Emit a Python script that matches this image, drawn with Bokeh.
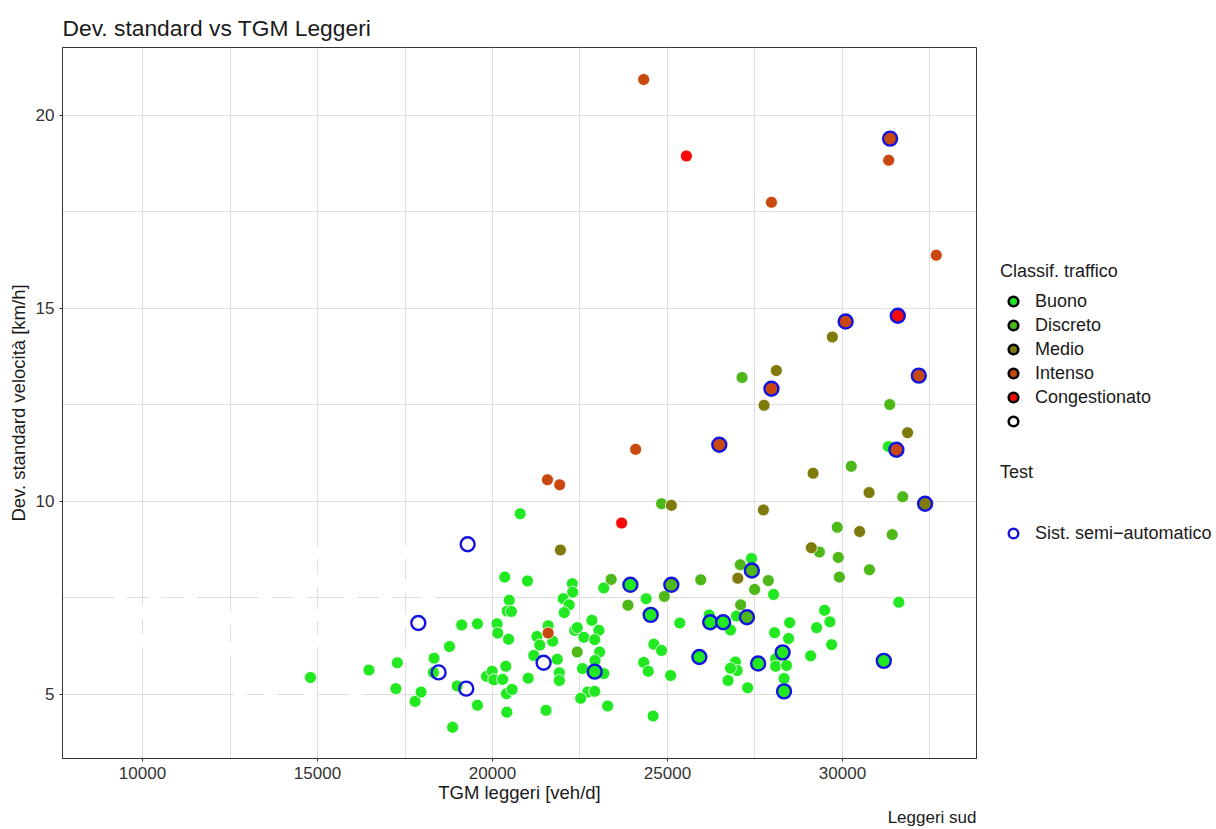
from bokeh.plotting import figure
from bokeh.layouts import row
from bokeh.models import Range1d, FixedTicker, Legend, LegendItem, Title
from bokeh.embed import file_html
from bokeh.resources import INLINE

FONT = "Liberation Sans"

# ---- data (TGM leggeri [veh/d], Dev. standard velocità [km/h]) ----
class_names = ["Buono", "Discreto", "Medio", "Intenso", "Congestionato"]
class_colors = ["#22E822", "#4DB818", "#7E7A0C", "#C8480E", "#F50A0A"]

buono_tgm = [14800, 16470, 17280, 17240, 20350, 21000, 22280, 22290, 22020, 22190,
             22050, 20480, 20420, 20540, 19120, 19570, 20130, 20150, 20460, 21590,
             21270, 21720, 21350, 21180, 21850, 21910, 21910, 21020, 22350, 22420,
             22610, 22840, 23040, 22920, 23060, 22930, 22570, 23180, 22720, 22920,
             22520, 23290, 24590, 21530, 20410, 19570, 18860, 17790, 18330, 18310,
             18990, 17960, 19830, 19990, 20040, 20290, 20380, 20400, 20560, 18770,
             23180, 24390, 25350, 24610, 24830, 24320, 24450, 25090, 20790, 27400,
             28030, 31610, 26970, 26190, 26800, 28490, 28060, 28460, 29490, 29640,
             29260, 29690, 29090, 26940, 26990, 26800, 26730, 27290, 28090, 28090,
             28400, 28330, 31310]
buono_dev = [5.44, 5.63, 5.82, 5.15, 8.04, 7.94, 7.87, 7.65, 7.48, 7.32,
             7.12, 7.44, 7.16, 7.15, 6.80, 6.83, 6.83, 6.59, 6.43, 6.78,
             6.50, 6.38, 6.28, 6.01, 5.91, 5.56, 5.36, 5.42, 6.66, 6.73,
             6.48, 6.92, 6.66, 6.42, 6.10, 5.88, 5.67, 5.54, 5.06, 5.08,
             4.90, 4.70, 4.44, 4.59, 4.54, 4.72, 4.15, 4.82, 5.94, 5.57,
             5.22, 5.06, 5.47, 5.60, 5.38, 5.39, 5.73, 5.02, 5.13, 6.24,
             7.76, 7.48, 6.85, 6.30, 6.14, 5.83, 5.60, 5.49, 9.68, 8.52,
             7.59, 7.39, 7.03, 7.06, 6.67, 6.86, 6.60, 6.45, 7.18, 6.88,
             6.73, 6.29, 6.00, 5.84, 5.62, 5.68, 5.36, 5.17, 5.92, 5.73,
             5.75, 5.41, 11.42]

discreto_tgm = [22420, 23390, 23870, 24910, 29850, 31420, 29340, 29880, 30770, 29910,
                27080, 27880, 27490, 25950, 27090, 30250, 31720, 24830, 27130, 31350]
discreto_dev = [6.10, 7.98, 7.31, 7.54, 9.33, 9.14, 8.69, 8.55, 8.23, 8.04,
                8.36, 7.95, 7.72, 7.97, 7.32, 10.91, 10.12, 9.94, 13.21, 12.51]

medio_tgm = [21940, 30490, 29110, 27010, 27760, 31860, 29160, 30760, 25110, 27740, 29710, 28110]
medio_dev = [8.74, 9.22, 8.80, 8.01, 12.49, 11.78, 10.73, 10.23, 9.90, 9.78, 14.26, 13.39]

intenso_tgm = [24090, 21570, 21920, 24320, 27970, 31320, 32680, 21590]
intenso_dev = [11.35, 10.56, 10.43, 20.93, 17.75, 18.84, 16.38, 6.59]

congest_tgm = [23690, 25540]
congest_dev = [9.44, 18.95]

# points without a traffic class (white)
noclass_tgm = [9370, 10370, 11370, 10000, 10000, 12490, 12490, 12800, 13510, 14510,
               15000, 15000, 15000, 15000, 15940, 16940, 17490, 17490, 17490, 17490,
               13660, 14800, 16090, 18170]
noclass_dev = [7.51, 7.46, 7.51, 7.12, 6.40, 6.97, 6.19, 5.00, 7.51, 7.51,
               8.68, 7.95, 7.05, 6.40, 7.51, 7.51, 8.68, 7.82, 6.92, 6.01,
               5.00, 5.00, 5.00, 7.51]

# Test: Sist. semi-automatico
test_tgm = [27970, 26480, 31540, 31360, 30090, 32180, 31580, 32360, 25110, 27410,
            27270, 23940, 24520, 26220, 26590, 31180, 25910, 27590, 28290, 28330,
            22920, 19290, 17880, 18460, 19250, 21460]
test_dev = [12.92, 11.47, 11.34, 19.40, 14.66, 13.26, 14.81, 9.94, 7.84, 8.21,
            7.00, 7.84, 7.06, 6.87, 6.87, 5.87, 5.97, 5.80, 6.09, 5.08,
            5.59, 8.89, 6.85, 5.57, 5.15, 5.82]
test_class = ["Intenso", "Intenso", "Intenso", "Intenso", "Intenso", "Intenso",
              "Congestionato", "Medio", "Discreto", "Discreto", "Discreto",
              "Buono", "Buono", "Buono", "Buono", "Buono", "Buono", "Buono",
              "Buono", "Buono", "Buono", "", "", "", "", ""]

x_ticks = [10000, 15000, 20000, 25000, 30000]
x_minor = [12500, 17500, 22500, 27500, 32500]
y_ticks = [5, 10, 15, 20]
y_minor = [7.5, 12.5, 17.5]

TOP, BOTTOM = 47, 71

# ---- main figure ----
p = figure(width=978, height=829,
           x_range=Range1d(7714, 33829), y_range=Range1d(3.34, 21.76),
           output_backend="svg", toolbar_location=None,
           min_border_left=62, min_border_right=2, min_border_top=TOP, min_border_bottom=BOTTOM,
           background_fill_color="white", border_fill_color="white")

p.title.text = "Dev. standard vs TGM Leggeri"
p.title.text_font = FONT
p.title.text_font_size = "22.8px"
p.title.text_font_style = "normal"
p.title.text_color = "#1A1A1A"
p.title.standoff = 13

p.xaxis.ticker = FixedTicker(ticks=x_ticks, minor_ticks=x_minor)
p.yaxis.ticker = FixedTicker(ticks=y_ticks, minor_ticks=y_minor)
p.xaxis.axis_label = "TGM leggeri [veh/d]"
p.yaxis.axis_label = "Dev. standard velocità [km/h]"
for ax in (p.xaxis, p.yaxis):
    ax.axis_label_text_font = FONT
    ax.axis_label_text_font_size = "18.5px"
    ax.axis_label_text_font_style = "normal"
    ax.axis_label_text_color = "#1A1A1A"
    ax.major_label_text_font = FONT
    ax.major_label_text_font_size = "17px"
    ax.major_label_text_color = "#333333"
    ax.minor_tick_line_color = None
    ax.major_tick_in = 0
    ax.major_tick_out = 3
    ax.major_tick_line_color = "#333333"
    ax.axis_line_color = "#333333"
p.xaxis.major_label_standoff = 4
p.xaxis.axis_label_standoff = 0
p.yaxis.major_label_standoff = 4
p.yaxis.axis_label_standoff = 4

for g in (p.xgrid, p.ygrid):
    g.grid_line_color = "#DEDEDE"
    g.grid_line_width = 1
    g.minor_grid_line_color = "#DEDEDE"
    g.minor_grid_line_width = 1

p.outline_line_color = "#333333"
p.outline_line_width = 1

# ---- points ----
PT = 12
p.scatter(noclass_tgm, noclass_dev, size=PT, fill_color="white", line_color="white")
series = [(buono_tgm, buono_dev), (discreto_tgm, discreto_dev), (medio_tgm, medio_dev),
          (intenso_tgm, intenso_dev), (congest_tgm, congest_dev)]
for (xs, ys), col in zip(series, class_colors):
    p.scatter(xs, ys, size=PT, fill_color=col, line_color="white", line_width=0.8)

cmap = dict(zip(class_names, class_colors))
test_fill = [cmap.get(c, "white") for c in test_class]
test_alpha = [1.0 if c in cmap else 0.0 for c in test_class]
p.scatter(test_tgm, test_dev, size=14, fill_color=test_fill, fill_alpha=test_alpha,
          line_color="#1414E0", line_width=2.4)

cap = Title(text="Leggeri sud", align="right", text_font=FONT, text_font_size="17px",
            text_font_style="normal", text_color="#1A1A1A", standoff=0)
p.add_layout(cap, "below")

# ---- legend panel (separate figure so nothing is clipped) ----
lf = figure(width=238, height=829, x_range=Range1d(0, 1), y_range=Range1d(0, 1),
            output_backend="svg", toolbar_location=None,
            min_border_left=0, min_border_right=0, min_border_top=TOP, min_border_bottom=BOTTOM,
            x_axis_location=None, y_axis_location=None, outline_line_color=None,
            background_fill_color="white", border_fill_color="white")
lf.grid.visible = False

OFF = [-10]  # key glyphs live outside the visible range; only the legend shows them
items1 = []
for name, col in zip(class_names + [" "], class_colors + ["white"]):
    r = lf.scatter(OFF, OFF, size=13, fill_color=col, line_color="black", line_width=2.6)
    items1.append(LegendItem(label=name, renderers=[r]))
r_test = lf.scatter(OFF, OFF, size=13, fill_color="white", fill_alpha=0,
                    line_color="#1414E0", line_width=2.4)
items2 = [LegendItem(label="Sist. semi\u2212automatico", renderers=[r_test])]

def style_legend(lg):
    lg.title_text_font = FONT
    lg.title_text_font_size = "18px"
    lg.title_text_font_style = "normal"
    lg.title_text_color = "#1A1A1A"
    lg.label_text_font = FONT
    lg.label_text_font_size = "18px"
    lg.label_text_color = "#1A1A1A"
    lg.glyph_width = 26
    lg.glyph_height = 24
    lg.label_height = 20
    lg.label_standoff = 9
    lg.padding = 4
    lg.margin = 0
    lg.spacing = 0
    lg.border_line_color = None
    lg.background_fill_alpha = 0

leg1 = Legend(items=items1, title="Classif. traffico", location=(22, 325))
style_legend(leg1)
leg1.title_standoff = 7
leg2 = Legend(items=items2, title="Test", location=(22, 213))
style_legend(leg2)
leg2.title_standoff = 38
lf.add_layout(leg1, "center")
lf.add_layout(leg2, "center")

layout = row(p, lf)
open("out.html", "w").write(file_html(layout, INLINE))
